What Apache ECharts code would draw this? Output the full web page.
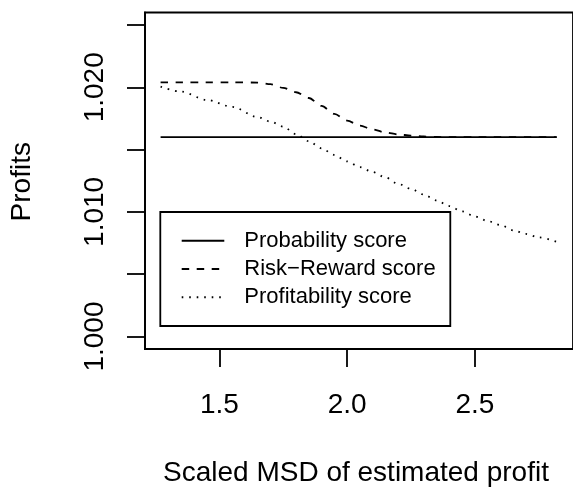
<!DOCTYPE html>
<html>
<head>
<meta charset="utf-8">
<script src="https://cdn.jsdelivr.net/npm/echarts@6/dist/echarts.min.js"></script>
<style>
  html, body { margin: 0; padding: 0; background: #ffffff; }
  #chart { width: 573px; height: 489px; }
</style>
</head>
<body>
<div id="chart"></div>
<script>
// Profits against the scaled MSD of the estimated profit, for three scoring rules.
var msd = [1.27, 1.35, 1.45, 1.55, 1.65, 1.70, 1.75, 1.80, 1.85, 1.90, 1.95, 2.00, 2.05, 2.10,
           2.15, 2.20, 2.25, 2.30, 2.35, 2.40, 2.45, 2.50, 2.55, 2.60, 2.65, 2.70, 2.75, 2.82];

var probabilityScore = [1.016, 1.016, 1.016, 1.016, 1.016, 1.016, 1.016, 1.016, 1.016, 1.016,
                        1.016, 1.016, 1.016, 1.016, 1.016, 1.016, 1.016, 1.016, 1.016, 1.016,
                        1.016, 1.016, 1.016, 1.016, 1.016, 1.016, 1.016, 1.016];

var riskRewardScore = [1.0204, 1.0204, 1.0204, 1.0204, 1.02038, 1.02025, 1.01995, 1.01960, 1.01914,
                       1.01850, 1.01787, 1.01733, 1.01692, 1.01662, 1.01637, 1.01622, 1.01612,
                       1.01605, 1.01601, 1.01600, 1.016, 1.016, 1.016, 1.016, 1.016, 1.016, 1.016, 1.016];

var profitabilityScore = [1.02005, 1.01965, 1.01899, 1.01843, 1.01761, 1.01725, 1.01684, 1.01624,
                          1.01567, 1.01510, 1.01457, 1.01405, 1.01360, 1.01320, 1.01277, 1.01225,
                          1.01185, 1.01139, 1.01092, 1.01047, 1.01004, 1.00964, 1.00927, 1.00895,
                          1.00852, 1.00823, 1.00796, 1.00760];

var seriesNames = ['Probability score', 'Risk\u2212Reward score', 'Profitability score'];

var xTicks = [1.5, 2.0, 2.5];
var yTicks = [1.000, 1.005, 1.010, 1.015, 1.020, 1.025];
var yTickLabels = [1.000, 1.010, 1.020];

var xTitle = 'Scaled MSD of estimated profit';
var yTitle = 'Profits';

function pairs(ys) {
  return msd.map(function (x, i) { return [x, ys[i]]; });
}

var FONT = '"Liberation Sans", Arial, Helvetica, sans-serif';
var LW = 1.8;
var DASHED = [7.5, 7.5];
var DOTTED = [1.6, 5.9];

var chart = echarts.init(document.getElementById('chart'), null, { renderer: 'canvas' });

chart.setOption({
  backgroundColor: '#ffffff',
  animation: false,
  grid: {
    left: 145, top: 12.5, right: -8, bottom: 140,
    show: true, borderColor: '#000', borderWidth: LW, backgroundColor: 'transparent'
  },
  xAxis: {
    type: 'value', min: 1.209, max: 2.884,
    splitLine: { show: false },
    axisLine: { show: true, lineStyle: { color: '#000', width: LW } },
    axisTick: { show: true, inside: false, length: 18, customValues: xTicks,
                lineStyle: { color: '#000', width: LW } },
    axisLabel: { show: true, customValues: xTicks, margin: 42, color: '#000',
                 fontFamily: FONT, fontSize: 28,
                 formatter: function (v) { return v.toFixed(1); } }
  },
  yAxis: {
    type: 'value', min: 0.999, max: 1.026,
    splitLine: { show: false },
    axisLine: { show: true, lineStyle: { color: '#000', width: LW } },
    axisTick: { show: true, inside: false, length: 18, customValues: yTicks,
                lineStyle: { color: '#000', width: LW } },
    axisLabel: { show: true, customValues: yTickLabels, rotate: 90, margin: 36, color: '#000',
                 fontFamily: FONT, fontSize: 28,
                 formatter: function (v) { return v.toFixed(3); } }
  },
  legend: {
    show: true, orient: 'vertical', left: 180.7, top: 229.7, padding: 0,
    itemWidth: 42.6, itemHeight: 14, itemGap: 6.3,
    data: seriesNames,
    itemStyle: { opacity: 0 },
    textStyle: { color: '#000', fontFamily: FONT, fontSize: 22, lineHeight: 22,
                 padding: [0, 0, 0, 15] }
  },
  graphic: [
    { type: 'rect', shape: { x: 160.3, y: 212, width: 290, height: 114 },
      style: { fill: 'none', stroke: '#000', lineWidth: LW }, z: 100 },
    { type: 'text', x: 356, y: 473,
      style: { text: xTitle, fill: '#000', font: '28px ' + FONT, align: 'center', verticalAlign: 'middle' } },
    { type: 'text', x: 22, y: 181.7, rotation: Math.PI / 2,
      style: { text: yTitle, fill: '#000', font: '28px ' + FONT, align: 'center', verticalAlign: 'middle' } }
  ],
  series: [
    { name: seriesNames[0], type: 'line', data: pairs(probabilityScore), symbol: 'none',
      lineStyle: { color: '#000', width: LW, type: 'solid' }, itemStyle: { color: '#000' } },
    { name: seriesNames[1], type: 'line', data: pairs(riskRewardScore), symbol: 'none',
      smooth: 0.3, smoothMonotone: 'x',
      lineStyle: { color: '#000', width: LW, type: DASHED }, itemStyle: { color: '#000' } },
    { name: seriesNames[2], type: 'line', data: pairs(profitabilityScore), symbol: 'none',
      smooth: 0.3, smoothMonotone: 'x',
      lineStyle: { color: '#000', width: LW, type: DOTTED }, itemStyle: { color: '#000' } }
  ]
});
</script>
</body>
</html>
